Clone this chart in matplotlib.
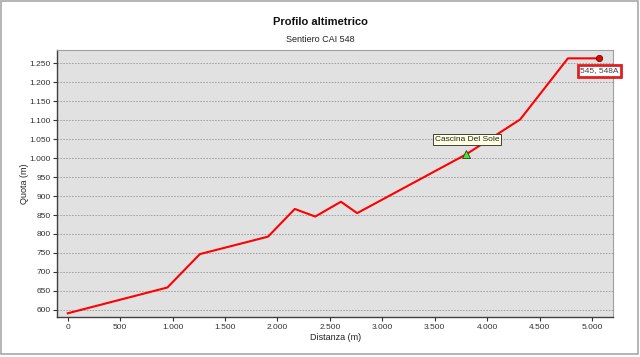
import matplotlib
matplotlib.use("Agg")
import matplotlib.pyplot as plt
from matplotlib.ticker import FuncFormatter, MultipleLocator
from matplotlib.patches import Rectangle

plt.rcParams['font.family'] = ['Liberation Sans', 'DejaVu Sans']

# Data
distance = [0, 950, 1260, 1910, 2165, 2360, 2605, 2760, 3800, 4315, 4770, 5070]
altitude = [591, 659, 747, 793, 866, 846, 885, 855, 1010, 1102, 1263, 1263]
poi_cascina = (3800, 1010)
poi_cascina_label = "Cascina Del Sole"
poi_end = (5070, 1263)
poi_end_label = "545, 548A"
title = "Profilo altimetrico"
subtitle = "Sentiero CAI 548"

fig = plt.figure(figsize=(6.4, 3.57), dpi=100)
fig.patch.set_facecolor('white')
fig.add_artist(Rectangle((1/640, 3/357), 637/640, 353/357, transform=fig.transFigure,
                         fill=False, edgecolor='#a8a8a8', linewidth=1.2))

ax = fig.add_axes([57.3/640, 1-316.7/357, (613-57.3)/640, (316.7-50)/357])
ax.set_facecolor('#e1e1e1')
ax.set_xlim(-100, 5200)
ax.set_ylim(582, 1285)

ax.yaxis.set_major_locator(MultipleLocator(50))
ax.xaxis.set_major_locator(MultipleLocator(500))
fmt = FuncFormatter(lambda v, p: f"{int(round(v)):,}".replace(",", "."))
ax.xaxis.set_major_formatter(fmt)
ax.yaxis.set_major_formatter(fmt)
ax.tick_params(axis='both', labelsize=6, colors='#333333', length=3, width=0.8, pad=2)

ax.grid(axis='y', linestyle=(0, (2, 1.5)), color='#9a9a9a', linewidth=0.6)
ax.set_axisbelow(True)

for s in ['top', 'right']:
    ax.spines[s].set_color('#a0a0a0')
    ax.spines[s].set_linewidth(0.8)
for s in ['left', 'bottom']:
    ax.spines[s].set_color('#404040')
    ax.spines[s].set_linewidth(1.0)

ax.plot(distance, altitude, color='#ff0000', linewidth=1.5, zorder=3)

ax.plot(*poi_cascina, marker='^', markersize=5.5, markerfacecolor='#44ee22',
        markeredgecolor='#333333', markeredgewidth=0.6, zorder=4)
ax.plot(*poi_end, marker='o', markersize=4.5, markerfacecolor='#ee0000',
        markeredgecolor='#551111', markeredgewidth=0.6, zorder=4, clip_on=False)

ax.text(3809, 1048, poi_cascina_label, fontsize=6, ha='center', va='center', color='#222222',
        bbox=dict(boxstyle='square,pad=0.25', facecolor='#ffffe1', edgecolor='#404040', linewidth=0.7),
        zorder=5)
ax.text(5071, 1230, poi_end_label, fontsize=6, ha='center', va='center', color='#444444',
        bbox=dict(boxstyle='square,pad=0.3', facecolor='white', edgecolor='#e02020', linewidth=2.0),
        zorder=5, clip_on=False)

ax.set_xlabel("Distanza (m)", fontsize=6.5, color='#222222', labelpad=2)
ax.set_ylabel("Quota (m)", fontsize=6.5, color='#222222')
ax.yaxis.set_label_coords((29 - 57.3) / (613 - 57.3), 0.5)

fig.text(0.5, 1-22/357, title, fontsize=8, fontweight='bold', ha='center', va='center', color='#111111')
fig.text(0.5, 1-40/357, subtitle, fontsize=6.5, ha='center', va='center', color='#222222')

fig.savefig("out.png", dpi=100)
